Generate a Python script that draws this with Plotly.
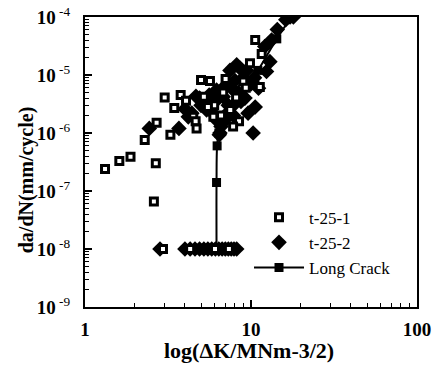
import plotly.graph_objects as go

# t-25-1 (open squares)
t1_x = [1.32, 1.61, 1.88, 2.67, 2.29, 2.70, 3.27, 3.02, 3.45, 3.77, 4.06, 4.49, 4.64, 4.70,
        5.0, 5.66, 5.93, 7.03, 8.13, 8.47, 8.98, 9.86, 10.6, 11.6, 11.3, 2.60,
        2.95, 4.3, 6.07, 7.36, 6.0, 6.6, 7.5, 5.5, 7.8, 6.8, 9.3, 5.2]
t1_y = [2.4e-7, 3.3e-7, 3.9e-7, 3.0e-7, 7.6e-7, 1.5e-6, 9.3e-7, 4.1e-6, 2.7e-6, 4.5e-6, 3.6e-6, 1.9e-6, 1.6e-6, 1.2e-6,
        8.2e-6, 7.9e-6, 1.9e-6, 8.5e-6, 4.1e-6, 1.6e-6, 7.7e-6, 1.6e-5, 4.0e-5, 2.3e-5, 6.2e-6, 6.6e-8,
        1e-8, 1e-8, 1e-8, 1e-8, 3.0e-6, 2.0e-6, 2.5e-6, 2.8e-6, 1.3e-6, 5.0e-6, 6.0e-6, 4.2e-6]

# t-25-2 (filled diamonds)
t2_x = [2.44, 3.68, 4.19, 4.0, 4.66, 4.9, 5.2, 5.4, 5.6, 5.9, 6.1, 6.3, 6.44, 6.6, 6.5, 6.97, 7.2, 7.84,
        5.6, 6.2, 6.8, 7.0, 7.47, 8.2, 8.6, 9.4, 9.0, 8.0, 7.6, 8.4, 9.2, 9.6, 10.6, 11.1, 10.3,
        12.4, 13.0, 12.1, 13.3, 14.4, 16.2, 17.2, 18.0, 10.0, 10.5, 7.3, 8.0, 8.7, 5.0, 4.4,
        2.83, 4.0, 4.3, 4.6, 4.9, 5.2, 5.5, 5.8, 6.1, 6.4, 6.7, 7.0, 7.3, 7.6, 7.9, 8.2]
t2_y = [1.2e-6, 1.2e-6, 1.9e-6, 2.6e-6, 4.3e-6, 4.0e-6, 3.5e-6, 2.5e-6, 3.0e-6, 2.2e-6, 3.5e-6, 1.6e-6, 9.3e-7, 1.3e-6, 1.0e-6, 1.7e-6, 2.2e-6, 2.0e-6,
        4.5e-6, 5.5e-6, 4.2e-6, 6.5e-6, 1.2e-5, 1.5e-5, 1.3e-5, 1.2e-5, 9e-6, 8e-6, 6e-6, 5e-6, 4e-6, 2.2e-6, 2.8e-6, 5.9e-6, 1.0e-6,
        1.15e-5, 1.7e-5, 3.1e-5, 4.0e-5, 6.1e-5, 9e-5, 1e-4, 1e-4, 7e-6, 9e-6, 3e-6, 3.2e-6, 3.5e-6, 3.0e-6, 2.2e-6,
        1e-8, 1e-8, 1e-8, 1e-8, 1e-8, 1e-8, 1e-8, 1e-8, 1e-8, 1e-8, 1e-8, 1e-8, 1e-8, 1e-8, 1e-8, 1e-8]

# Long Crack
lc_x = [6.2, 6.2, 6.25, 6.4, 6.9, 8.5, 11.0, 14.3, 17.5]
lc_y = [1e-8, 1.4e-7, 6e-7, 1.0e-6, 1.6e-6, 4e-6, 1.2e-5, 4.2e-5, 1e-4]

y_ticks = [1e-9, 1e-8, 1e-7, 1e-6, 1e-5, 1e-4]
y_labels = ["<b>10</b><sup> -9</sup>", "<b>10</b><sup> -8</sup>", "<b>10</b><sup> -7</sup>",
            "<b>10</b><sup> -6</sup>", "<b>10</b><sup> -5</sup>", "<b>10</b><sup> -4</sup>"]
x_ticks = [1, 10, 100]
x_labels = ["<b>1</b>", "<b>10</b>", "<b>100</b>"]

x_minor = [m * 10 ** d for d in range(0, 2) for m in range(2, 10)]
y_minor = [m * 10.0 ** d for d in range(-9, -4) for m in range(2, 10)]

SERIF = "Liberation Serif"
XR = [0, 2]
YR = [-9, -4]

fig = go.Figure()
fig.add_trace(go.Scatter(x=t2_x, y=t2_y, mode="markers", name="t-25-2", legendrank=2,
                         marker=dict(symbol="diamond", size=12, color="black")))
fig.add_trace(go.Scatter(x=lc_x, y=lc_y, mode="lines+markers", name="Long Crack", legendrank=3,
                         line=dict(color="black", width=2, shape="spline"),
                         marker=dict(symbol="square", size=9, color="black")))
# t-25-1 drawn on the overlay axes (same ranges) so they carry the minor ticks
fig.add_trace(go.Scatter(x=t1_x, y=t1_y, mode="markers", name="t-25-1", legendrank=1,
                         xaxis="x2", yaxis="y2",
                         marker=dict(symbol="square", size=7, color="white",
                                     line=dict(color="black", width=3))))

axis_common = dict(showline=True, linecolor="black", linewidth=2, mirror=True,
                   ticks="inside", ticklen=7, tickcolor="black", tickwidth=1.5,
                   showgrid=False, zeroline=False, automargin=False,
                   tickfont=dict(family=SERIF, size=19, color="black"))
minor_axis = dict(showticklabels=False, ticks="inside", ticklen=4, tickcolor="black", tickwidth=1.2,
                  showgrid=False, zeroline=False, showline=False, automargin=False,
                  tickmode="array")

fig.update_layout(
    xaxis=dict(type="log", range=XR, tickmode="array", tickvals=x_ticks, ticktext=x_labels,
               ticklabelstandoff=4, **axis_common),
    yaxis=dict(type="log", range=YR, tickmode="array", tickvals=y_ticks, ticktext=y_labels,
               ticklabelstandoff=9, **axis_common),
    xaxis2=dict(type="log", range=XR, overlaying="x", anchor="y", side="bottom",
                tickvals=x_minor, **minor_axis),
    yaxis2=dict(type="log", range=YR, overlaying="y", anchor="x", side="left",
                tickvals=y_minor, **minor_axis),
)

fig.add_annotation(text="<b>da/dN(mm/cycle)</b>", xref="paper", yref="paper",
                   x=-0.178, y=0.44, xanchor="center", yanchor="middle", textangle=-90,
                   showarrow=False, font=dict(family=SERIF, size=20, color="black"))
fig.add_annotation(text="<b>log(ΔK/MNm-3/2)</b>", xref="paper", yref="paper",
                   x=0.495, y=-0.15, xanchor="center", yanchor="middle",
                   showarrow=False, font=dict(family=SERIF, size=22, color="black"))

fig.update_layout(
    width=434, height=365,
    margin=dict(l=85, r=17, t=17, b=58),
    paper_bgcolor="white", plot_bgcolor="white",
    showlegend=True,
    legend=dict(x=0.494, y=0.37, xanchor="left", yanchor="top",
                bgcolor="rgba(0,0,0,0)", font=dict(family=SERIF, size=17, color="black"),
                itemwidth=50),
)

fig.write_html("out.html", config={"displayModeBar": False},
               post_script="document.body.style.margin='0px';")
